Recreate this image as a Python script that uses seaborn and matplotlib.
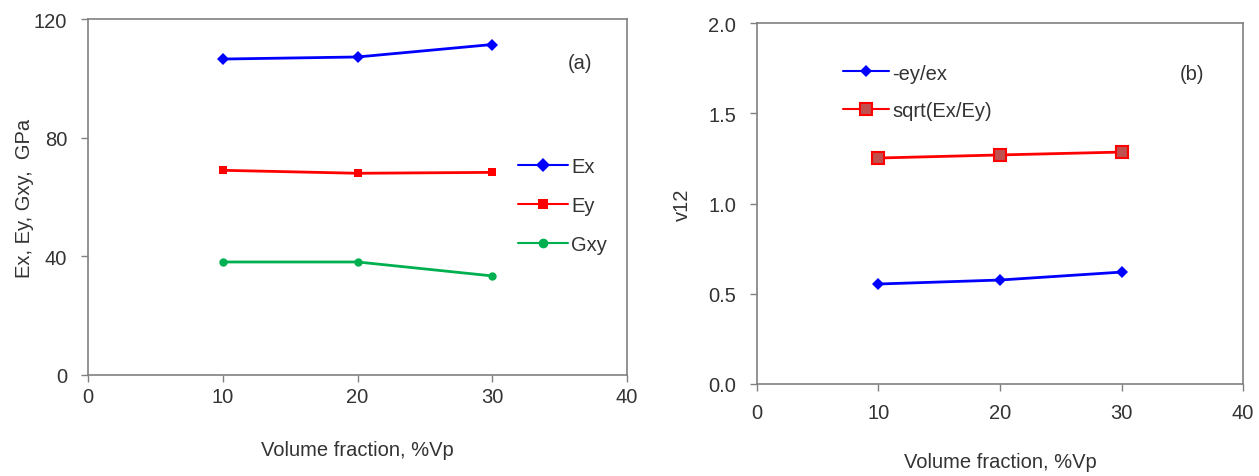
import numpy as np
import pandas as pd
import seaborn as sns
import matplotlib.pyplot as plt

# ==================================
# DADOS
# ==================================

vp = [10, 20, 30]

ex = [106.5, 107.2, 111.4]
ey = [69.0, 68.0, 68.3]
gxy = [38.1, 38.1, 33.4]

nu_medido = [0.554, 0.576, 0.620]
nu_sqrt = [1.252, 1.269, 1.285]

df_a = pd.DataFrame({
    "vp": vp * 3,
    "valor": ex + ey + gxy,
    "serie": ["Ex"] * 3 + ["Ey"] * 3 + ["Gxy"] * 3,
})

df_b = pd.DataFrame({
    "vp": vp * 2,
    "valor": nu_medido + nu_sqrt,
    "serie": ["-ey/ex"] * 3 + ["sqrt(Ex/Ey)"] * 3,
})

# ==================================
# ESTILO
# ==================================

sns.set_style("white")
plt.rcParams["font.family"] = ["Liberation Sans", "DejaVu Sans"]

cor_txt = "#333333"
cor_eixo = "#808080"
fs = 14.5

fig = plt.figure(figsize=(12.59, 4.77), dpi=100)
ax1 = fig.add_axes([88 / 1259, 1 - 376 / 477, 539 / 1259, 356 / 477])
ax2 = fig.add_axes([757 / 1259, 1 - 385 / 477, 486 / 1259, 361 / 477])


def estilo(ax, xpad, xlabelpad):
    for s in ax.spines.values():
        s.set_color(cor_eixo)
        s.set_linewidth(1.2)
    ax.tick_params(axis="both", direction="out", length=5, width=1,
                   bottom=True, left=True,
                   color=cor_eixo, labelsize=fs, labelcolor=cor_txt)
    ax.tick_params(axis="x", pad=xpad)
    ax.tick_params(axis="y", pad=10)
    ax.set_xlim(0, 40)
    ax.set_xticks([0, 10, 20, 30, 40])
    ax.set_xlabel("Volume fraction, %Vp", fontsize=fs, color=cor_txt,
                  labelpad=xlabelpad)


# ==================================
# (a)
# ==================================

sns.lineplot(
    data=df_a, x="vp", y="valor", hue="serie", style="serie",
    palette={"Ex": "#0000FF", "Ey": "#FF0000", "Gxy": "#00B050"},
    markers={"Ex": "D", "Ey": "s", "Gxy": "o"},
    dashes=False, linewidth=2, markersize=6, markeredgewidth=0,
    ax=ax1,
)
estilo(ax1, 4, 24)
ax1.set_ylim(0, 120)
ax1.set_yticks([0, 40, 80, 120])
ax1.set_ylabel("Ex, Ey, Gxy,  GPa", fontsize=fs, color=cor_txt, labelpad=0)
ax1.text(0.913, 0.878, "(a)", transform=ax1.transAxes, fontsize=fs,
         color=cor_txt, ha="center", va="center")
leg = ax1.legend(loc="upper left", bbox_to_anchor=(0.783, 0.635), frameon=False,
                 fontsize=fs, handlelength=2.5, handletextpad=0.15,
                 labelspacing=1.0, borderaxespad=0)
for h in leg.get_lines():
    h.set_linewidth(1.5)
    h.set_markersize(7)
for t in leg.get_texts():
    t.set_color(cor_txt)

# ==================================
# (b)
# ==================================

sns.lineplot(
    data=df_b, x="vp", y="valor", hue="serie", style="serie",
    palette={"-ey/ex": "#0000FF", "sqrt(Ex/Ey)": "#FF0000"},
    markers={"-ey/ex": "D", "sqrt(Ex/Ey)": "s"},
    dashes=False, linewidth=2, markersize=8, markeredgewidth=0,
    ax=ax2,
)
# marcador quadrado com preenchimento marrom
for ln in ax2.get_lines():
    if ln.get_marker() == "s":
        ln.set_markerfacecolor("#C0504D")
        ln.set_markeredgecolor("#FF0000")
        ln.set_markeredgewidth(1.5)
    elif ln.get_marker() == "D":
        ln.set_markersize(6)

estilo(ax2, 9, 21)
ax2.set_ylim(0, 2.0)
ax2.set_yticks([0.0, 0.5, 1.0, 1.5, 2.0])
ax2.set_yticklabels(["0.0", "0.5", "1.0", "1.5", "2.0"])
ax2.set_ylabel("v12", fontsize=fs, color=cor_txt, labelpad=12)
ax2.text(0.895, 0.86, "(b)", transform=ax2.transAxes, fontsize=fs,
         color=cor_txt, ha="center", va="center")
leg2 = ax2.legend(loc="upper left", bbox_to_anchor=(0.16, 0.91), frameon=False,
                  fontsize=fs, handlelength=2.3, handletextpad=0.15,
                  labelspacing=0.9, borderaxespad=0)
for h in leg2.get_lines():
    h.set_linewidth(1.5)
    if h.get_marker() == "s":
        h.set_markerfacecolor("#C0504D")
        h.set_markeredgecolor("#FF0000")
        h.set_markeredgewidth(1.5)
    else:
        h.set_markersize(6)
for t in leg2.get_texts():
    t.set_color(cor_txt)

plt.savefig("out.png", dpi=100)
